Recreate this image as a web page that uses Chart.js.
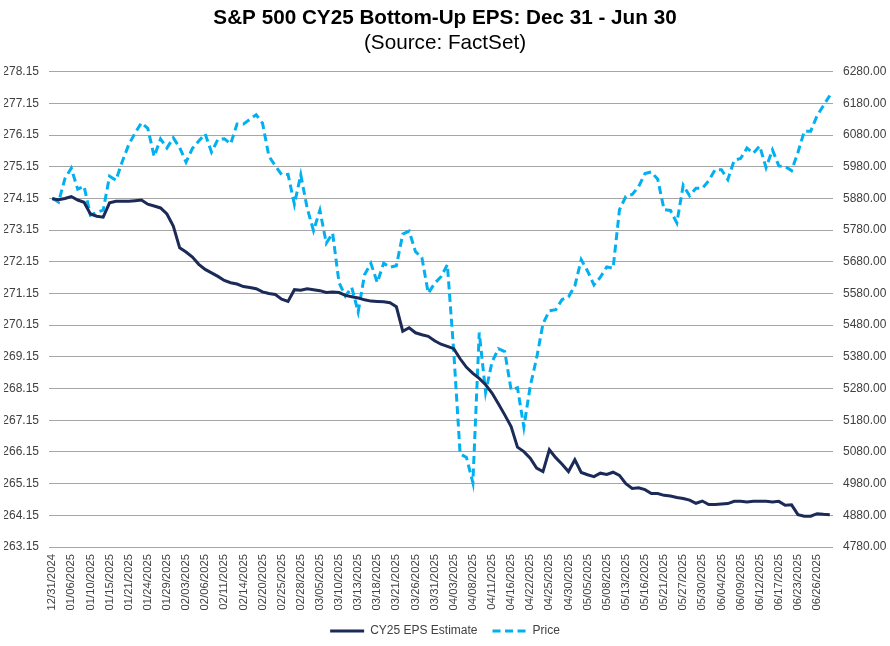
<!DOCTYPE html>
<html>
<head>
<meta charset="utf-8">
<script src="https://cdn.jsdelivr.net/npm/chart.js@4.4.1/dist/chart.umd.min.js"></script>
<style>
  html, body { margin: 0; padding: 0; background: #ffffff; }
  #wrap { width: 890px; height: 646px; position: relative; }
</style>
</head>
<body>
<div id="wrap"><canvas id="c"></canvas></div>
<script>
const categories = [
  "12/31/2024",
  "01/02/2025","01/03/2025","01/06/2025","01/07/2025","01/08/2025","01/10/2025","01/13/2025","01/14/2025","01/15/2025","01/16/2025","01/17/2025","01/21/2025","01/22/2025","01/23/2025","01/24/2025","01/27/2025","01/28/2025","01/29/2025","01/30/2025","01/31/2025",
  "02/03/2025","02/04/2025","02/05/2025","02/06/2025","02/07/2025","02/10/2025","02/11/2025","02/12/2025","02/13/2025","02/14/2025","02/18/2025","02/19/2025","02/20/2025","02/21/2025","02/24/2025","02/25/2025","02/26/2025","02/27/2025","02/28/2025",
  "03/03/2025","03/04/2025","03/05/2025","03/06/2025","03/07/2025","03/10/2025","03/11/2025","03/12/2025","03/13/2025","03/14/2025","03/17/2025","03/18/2025","03/19/2025","03/20/2025","03/21/2025","03/24/2025","03/25/2025","03/26/2025","03/27/2025","03/28/2025","03/31/2025",
  "04/01/2025","04/02/2025","04/03/2025","04/04/2025","04/07/2025","04/08/2025","04/09/2025","04/10/2025","04/11/2025","04/14/2025","04/15/2025","04/16/2025","04/17/2025","04/21/2025","04/22/2025","04/23/2025","04/24/2025","04/25/2025","04/28/2025","04/29/2025","04/30/2025",
  "05/01/2025","05/02/2025","05/05/2025","05/06/2025","05/07/2025","05/08/2025","05/09/2025","05/12/2025","05/13/2025","05/14/2025","05/15/2025","05/16/2025","05/19/2025","05/20/2025","05/21/2025","05/22/2025","05/23/2025","05/27/2025","05/28/2025","05/29/2025","05/30/2025",
  "06/02/2025","06/03/2025","06/04/2025","06/05/2025","06/06/2025","06/09/2025","06/10/2025","06/11/2025","06/12/2025","06/13/2025","06/16/2025","06/17/2025","06/18/2025","06/20/2025","06/23/2025","06/24/2025","06/25/2025","06/26/2025","06/27/2025","06/30/2025"
];

const epsEstimate = [
  274.14,
  274.11,274.15,274.21,274.10,274.03,273.66,273.59,273.56,274.01,274.06,274.06,274.06,274.08,274.10,273.97,273.91,273.85,273.66,273.28,272.59,
  272.46,272.30,272.07,271.91,271.80,271.69,271.56,271.49,271.45,271.37,271.34,271.30,271.20,271.15,271.12,270.97,270.90,271.27,271.25,
  271.30,271.27,271.24,271.18,271.20,271.18,271.09,271.05,271.01,270.95,270.91,270.90,270.89,270.86,270.73,269.96,270.07,269.91,269.85,269.80,269.66,
  269.55,269.48,269.41,269.09,268.82,268.63,268.47,268.27,268.01,267.67,267.32,266.95,266.30,266.16,265.95,265.64,265.53,266.22,265.97,265.76,265.53,
  265.90,265.50,265.43,265.37,265.48,265.44,265.51,265.41,265.15,265.00,265.02,264.96,264.84,264.84,264.78,264.76,264.71,264.68,264.63,264.53,264.60,
  264.49,264.49,264.51,264.52,264.59,264.59,264.57,264.59,264.59,264.59,264.57,264.59,264.47,264.48,264.17,264.12,264.12,264.20,264.18,264.17
];

const price = [
  5881.63,
  5868.55,5942.47,5975.38,5909.03,5918.25,5827.04,5836.22,5842.91,5949.91,5937.34,5996.66,6049.24,6086.37,6118.71,6101.24,6012.28,6067.70,6039.31,6071.17,6040.53,
  5994.57,6037.88,6061.48,6083.57,6025.99,6066.44,6068.50,6051.97,6115.07,6114.63,6129.58,6144.15,6117.52,6013.13,5983.25,5955.25,5956.06,5861.57,5954.50,
  5849.72,5778.15,5842.63,5738.52,5770.20,5614.56,5572.07,5599.30,5521.52,5638.94,5675.12,5614.66,5675.29,5662.89,5667.56,5767.57,5776.65,5712.20,5693.31,5580.94,5611.85,
  5633.07,5670.97,5396.52,5074.08,5062.25,4982.77,5456.90,5268.05,5363.36,5405.97,5396.63,5275.70,5282.70,5158.20,5287.76,5375.86,5484.77,5525.21,5528.75,5560.83,5569.06,
  5604.14,5686.67,5650.38,5606.91,5631.28,5663.94,5659.91,5844.19,5886.55,5892.58,5916.93,5958.38,5963.60,5940.46,5844.61,5842.01,5802.82,5921.54,5888.55,5912.17,5911.69,
  5935.94,5970.37,5970.81,5939.30,6000.36,6005.88,6038.81,6022.24,6045.26,5976.97,6033.11,5982.72,5980.87,5967.84,6025.17,6092.18,6092.16,6141.02,6173.07,6204.95
];

const epsTicks = [263.15,264.15,265.15,266.15,267.15,268.15,269.15,270.15,271.15,272.15,273.15,274.15,275.15,276.15,277.15,278.15];
const priceTicks = [4780,4880,4980,5080,5180,5280,5380,5480,5580,5680,5780,5880,5980,6080,6180,6280];
const labelEvery = 3;

const FONT = "'Liberation Sans', Arial, sans-serif";
const TXT = '#404040';
const GRID = '#a6a6a6';

new Chart(document.getElementById('c'), {
  type: 'line',
  data: {
    labels: categories,
    datasets: [
      {
        label: 'CY25 EPS Estimate',
        data: epsEstimate,
        yAxisID: 'y',
        borderColor: '#1b2a57',
        backgroundColor: '#1b2a57',
        borderWidth: 3,
        pointRadius: 0,
        tension: 0
      },
      {
        label: 'Price',
        data: price,
        yAxisID: 'y1',
        borderColor: '#00b0f0',
        backgroundColor: '#00b0f0',
        borderWidth: 3,
        borderDash: [8, 4.5],
        pointRadius: 0,
        tension: 0
      }
    ]
  },
  options: {
    responsive: true,
    maintainAspectRatio: false,
    animation: false,
    layout: { padding: { left: 4, right: 4, top: 0, bottom: -1 } },
    plugins: {
      title: {
        display: true,
        text: 'S&P 500 CY25 Bottom-Up EPS: Dec 31 - Jun 30',
        color: '#000',
        font: { family: FONT, size: 20.7, weight: 'bold' },
        padding: { top: 6, bottom: 0 }
      },
      subtitle: {
        display: true,
        text: '(Source: FactSet)',
        color: '#000',
        font: { family: FONT, size: 20.7, weight: 'normal' },
        padding: { top: 0, bottom: 16 }
      },
      legend: {
        display: true,
        position: 'bottom',
        labels: {
          color: TXT,
          font: { family: FONT, size: 12 },
          usePointStyle: true,
          pointStyle: 'line',
          pointStyleWidth: 34,
          boxHeight: 12,
          padding: 15,
          generateLabels: (chart) => {
            const items = Chart.defaults.plugins.legend.labels.generateLabels(chart);
            items.forEach((it) => {
              const ds = chart.data.datasets[it.datasetIndex];
              it.lineDash = ds.borderDash || [];
              it.lineWidth = 3;
              it.strokeStyle = ds.borderColor;
              it.fillStyle = ds.borderColor;
            });
            return items;
          }
        }
      },
      tooltip: { enabled: false }
    },
    scales: {
      x: {
        offset: true,
        grid: { display: false },
        border: { display: false },
        afterFit: (s) => { s.height = 63; },
        ticks: {
          autoSkip: false,
          maxRotation: 90,
          minRotation: 90,
          color: TXT,
          font: { family: FONT, size: 11.3 },
          padding: -1,
          callback: function (val, i) { return i % labelEvery === 0 ? categories[i] : ''; }
        }
      },
      y: {
        position: 'left',
        min: epsTicks[0],
        max: epsTicks[epsTicks.length - 1],
        afterBuildTicks: (s) => { s.ticks = epsTicks.map(v => ({ value: v })); },
        afterFit: (s) => { s.width = 45; },
        grid: { color: GRID, lineWidth: 1, drawTicks: false },
        border: { display: false },
        ticks: {
          color: TXT,
          font: { family: FONT, size: 12 },
          padding: 10,
          callback: (v) => Number(v).toFixed(2)
        }
      },
      y1: {
        position: 'right',
        min: priceTicks[0],
        max: priceTicks[priceTicks.length - 1],
        afterBuildTicks: (s) => { s.ticks = priceTicks.map(v => ({ value: v })); },
        afterFit: (s) => { s.width = 53; },
        grid: { drawOnChartArea: false, drawTicks: false },
        border: { display: false },
        ticks: {
          color: TXT,
          font: { family: FONT, size: 12 },
          padding: 10,
          callback: (v) => Number(v).toFixed(2)
        }
      }
    }
  }
});
</script>
</body>
</html>
